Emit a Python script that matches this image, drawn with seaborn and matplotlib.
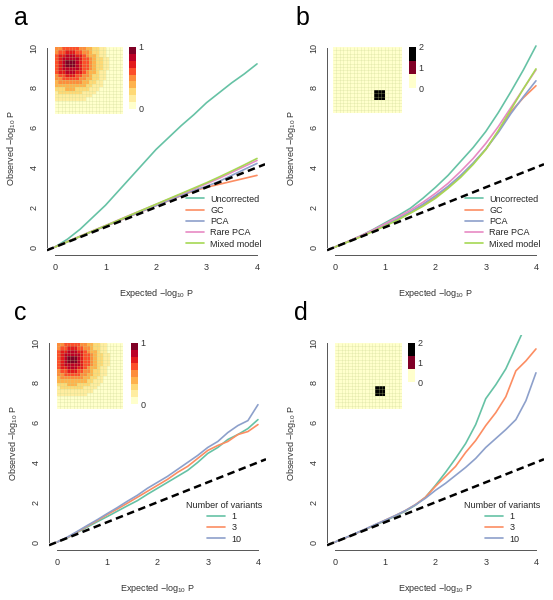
import numpy as np
import pandas as pd
import matplotlib
matplotlib.use("Agg")
import matplotlib.pyplot as plt
from matplotlib.colors import ListedColormap
import seaborn as sns

W, H = 553, 600

methods = ["Uncorrected", "GC", "PCA", "Rare PCA", "Mixed model"]
method_colors = ["#66c2a5", "#fc8d62", "#8da0cb", "#e78ac3", "#a6d854"]
variants = ["1", "3", "10"]
variant_colors = ["#66c2a5", "#fc8d62", "#8da0cb"]

# expected -log10 P
exp_ab = [0, 0.25, 0.5, 0.75, 1.0, 1.25, 1.5, 1.75, 2.0, 2.25, 2.5, 2.75, 3.0, 3.25, 3.5, 3.75, 4.0]
exp_cd = [0, 0.2, 0.4, 0.6, 0.8, 1.0, 1.2, 1.4, 1.6, 1.8, 2.0, 2.2, 2.4, 2.6, 2.8, 3.0, 3.2, 3.4, 3.6, 3.8, 4.0]

# panel a: observed -log10 P per method
a_uncorrected = [0, 0.4, 0.9, 1.5, 2.1, 2.8, 3.5, 4.2, 4.9, 5.5, 6.1, 6.65, 7.25, 7.75, 8.25, 8.7, 9.2]
a_gc = [0, 0.27, 0.53, 0.8, 1.05, 1.3, 1.56, 1.82, 2.08, 2.33, 2.58, 2.82, 3.0, 3.15, 3.3, 3.45, 3.6]
a_pca = [0, 0.27, 0.53, 0.8, 1.05, 1.31, 1.57, 1.83, 2.08, 2.34, 2.6, 2.85, 3.05, 3.3, 3.6, 3.9, 4.2]
a_rarepca = [0, 0.28, 0.55, 0.82, 1.08, 1.35, 1.62, 1.88, 2.14, 2.4, 2.66, 2.92, 3.18, 3.45, 3.75, 4.05, 4.35]
a_mixed = [0, 0.27, 0.54, 0.81, 1.07, 1.34, 1.61, 1.88, 2.15, 2.42, 2.69, 2.96, 3.23, 3.52, 3.82, 4.13, 4.45]

# panel b
b_uncorrected = [0, 0.27, 0.55, 0.87, 1.22, 1.57, 1.95, 2.45, 3.0, 3.6, 4.3, 5.0, 5.8, 6.75, 7.8, 8.9, 10.1]
b_gc = [0, 0.26, 0.52, 0.8, 1.1, 1.4, 1.72, 2.1, 2.5, 3.0, 3.55, 4.2, 4.9, 5.8, 6.8, 7.5, 8.1]
b_pca = [0, 0.26, 0.53, 0.82, 1.12, 1.43, 1.77, 2.15, 2.58, 3.05, 3.6, 4.22, 4.92, 5.75, 6.7, 7.55, 8.35]
b_rarepca = [0, 0.27, 0.55, 0.85, 1.17, 1.5, 1.85, 2.25, 2.7, 3.2, 3.8, 4.45, 5.2, 6.05, 7.0, 7.95, 8.9]
b_mixed = [0, 0.25, 0.5, 0.78, 1.06, 1.36, 1.7, 2.05, 2.45, 2.95, 3.5, 4.15, 4.9, 5.85, 6.9, 7.95, 8.95]

# panel c: by number of variants
c_1 = [0, 0.2, 0.48, 0.75, 1.02, 1.28, 1.55, 1.82, 2.08, 2.4, 2.7, 3.0, 3.3, 3.6, 4.0, 4.45, 4.75, 5.15, 5.4, 5.7, 6.15]
c_3 = [0, 0.22, 0.5, 0.8, 1.08, 1.38, 1.66, 1.95, 2.25, 2.55, 2.85, 3.15, 3.5, 3.8, 4.2, 4.6, 4.85, 5.05, 5.4, 5.55, 5.9]
c_10 = [0, 0.24, 0.53, 0.83, 1.12, 1.43, 1.73, 2.05, 2.35, 2.7, 3.0, 3.3, 3.65, 4.0, 4.35, 4.75, 5.05, 5.5, 5.85, 6.1, 6.9]

# panel d
d_1 = [0, 0.2, 0.42, 0.63, 0.85, 1.07, 1.3, 1.55, 1.85, 2.25, 2.85, 3.5, 4.2, 4.95, 5.9, 7.2, 7.9, 8.7, 9.8, 10.9, 12.0]
d_3 = [0, 0.2, 0.42, 0.64, 0.87, 1.1, 1.33, 1.58, 1.88, 2.25, 2.8, 3.3, 3.8, 4.5, 5.1, 5.85, 6.5, 7.3, 8.6, 9.1, 9.7]
d_10 = [0, 0.21, 0.43, 0.65, 0.88, 1.1, 1.33, 1.58, 1.87, 2.2, 2.6, 2.95, 3.35, 3.75, 4.2, 4.75, 5.2, 5.65, 6.15, 7.1, 8.5]

# inset maps (levels), smooth gradient and a local block
smooth_rows = [
    "44555554433221100000",
    "45566655443221100000",
    "56677766543321100000",
    "56777776554322110000",
    "56788876554322110000",
    "56788876554322110000",
    "56777776554322110000",
    "56677766543321100000",
    "45566655443221100000",
    "44555554433221100000",
    "34444444332211000000",
    "33333333322111000000",
    "22233322221110000000",
    "12222222111100000000",
    "11111111111000000000",
    "11111111100000000000",
    "00000000000000000000",
    "00000000000000000000",
    "00000000000000000000",
    "00000000000000000000",
]
block_rows = ["00000000000000000000"] * 13 + ["00000000000022200000"] * 3 + ["00000000000000000000"] * 4
smooth_colors = ["#ffffcc", "#ffeda0", "#fed976", "#feb24c", "#fd8d3c",
                 "#fc4e2a", "#e31a1c", "#bd0026", "#800026"]
block_colors = ["#ffffcc", "#800026", "#000000"]

sns.set_style("white")
plt.rcParams["font.family"] = ["Liberation Sans", "DejaVu Sans"]
plt.rcParams["mathtext.default"] = "regular"

fig = plt.figure(figsize=(W / 100, H / 100), dpi=100)


def px_axes(left, top, right, bottom):
    return fig.add_axes([left / W, 1 - bottom / H, (right - left) / W, (bottom - top) / H])


def qq_panel(box, x, curves, names, colors, title=None):
    ax = px_axes(*box)
    df = pd.concat([pd.DataFrame({"expected": x, "observed": y, "group": n})
                    for n, y in zip(names, curves)])
    sns.lineplot(data=df, x="expected", y="observed", hue="group", hue_order=names,
                 palette=colors, ax=ax, lw=1.2, sort=False, estimator=None)
    ax.axline((0, 0), slope=1, color="black", ls=(0, (3, 1.8)), lw=1.8, zorder=5)
    ax.set_xlim(-0.16, 4.16)
    ax.set_ylim(-0.4, 10.4)
    ax.set_xticks([0, 1, 2, 3, 4])
    ax.set_yticks([0, 2, 4, 6, 8, 10])
    sns.despine(ax=ax)
    for s in ["left", "bottom"]:
        ax.spines[s].set_color("#555555")
        ax.spines[s].set_linewidth(0.7)
    ax.spines["left"].set_bounds(0, 10)
    ax.spines["bottom"].set_bounds(0, 4)
    ax.tick_params(direction="out", length=3.6, width=0.7, color="#555555",
                   labelsize=6.5, labelcolor="#333333", pad=2.5)
    ax.tick_params(axis="y", labelrotation=90)
    for t in ax.get_yticklabels():
        t.set_va("center")
    ax.set_xlabel("Expected \u2212log$_{10}$ P", fontsize=6.5, color="#333333")
    ax.set_ylabel("Observed \u2212log$_{10}$ P", fontsize=6.5, color="#333333")
    ax.xaxis.set_label_coords(0.5, -0.15)
    ax.yaxis.set_label_coords(-0.132, 0.5)
    handles, labels = ax.get_legend_handles_labels()
    ax.legend(handles, labels, title=title, loc="lower right", bbox_to_anchor=(0.985, 0.03),
              frameon=False, fontsize=6.5, title_fontsize=6.5, handlelength=2.0,
              handletextpad=0.7, labelspacing=0.25, borderpad=0, borderaxespad=0)
    return ax


def inset_map(box, cbox, rows, colors, vmax, ticks):
    hm = px_axes(*box)
    cax = px_axes(*cbox)
    vals = np.array([[int(ch) for ch in r] for r in rows], dtype=float)
    if vmax == 1:
        vals = vals / 8
    sns.heatmap(vals, ax=hm, cbar_ax=cax, cmap=ListedColormap(colors), vmin=0, vmax=vmax,
                linewidths=0, xticklabels=False, yticklabels=False,
                cbar_kws={"ticks": ticks})
    # faint cell grid
    n = len(rows)
    hm.hlines(range(1, n), 0, n, colors="#c9d68f", lw=0.4, alpha=0.45)
    hm.vlines(range(1, n), 0, n, colors="#c9d68f", lw=0.4, alpha=0.45)
    cax.tick_params(length=0, labelsize=6.5, labelcolor="#333333", pad=2)
    for s in cax.spines.values():
        s.set_visible(False)


qq_panel((46.9, 40, 265.1, 255), exp_ab,
         [a_uncorrected, a_gc, a_pca, a_rarepca, a_mixed], methods, method_colors)
qq_panel((327, 40, 544, 255), exp_ab,
         [b_uncorrected, b_gc, b_pca, b_rarepca, b_mixed], methods, method_colors)
qq_panel((49, 335, 266, 550), exp_cd, [c_1, c_3, c_10], variants, variant_colors,
         title="Number of variants")
qq_panel((327, 335, 544, 550), exp_cd, [d_1, d_3, d_10], variants, variant_colors,
         title="Number of variants")

inset_map((55, 47, 123, 114), (129, 47, 136, 109), smooth_rows, smooth_colors, 1, [0, 1])
inset_map((333, 47, 402, 113), (409, 47, 416, 88), block_rows, block_colors, 2, [0, 1, 2])
inset_map((57, 343, 123, 409), (131, 343, 138, 404), smooth_rows, smooth_colors, 1, [0, 1])
inset_map((335, 343, 402, 409), (408, 343, 415, 382), block_rows, block_colors, 2, [0, 1, 2])

for lab, x, y in [("a", 14, 25), ("b", 295, 25), ("c", 14, 320), ("d", 294, 320)]:
    fig.text(x / W, 1 - y / H, lab, fontsize=18, color="black", ha="left", va="baseline")

fig.savefig("out.png", dpi=100)
